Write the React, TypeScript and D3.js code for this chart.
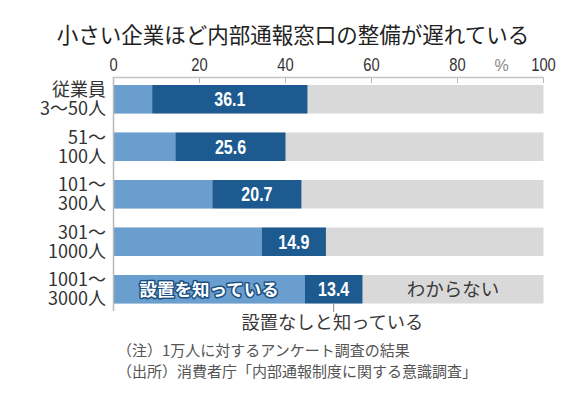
import React from "react";
import * as d3 from "d3";

const categories = ["3-50", "51-100", "101-300", "301-1000", "1001-3000"];
const labelLines = [
  ["従業員", "3～50人"],
  ["51～", "100人"],
  ["101～", "300人"],
  ["301～", "1000人"],
  ["1001～", "3000人"],
];
const knowSet = [9.0, 14.4, 23.0, 34.5, 44.5];
const knowNone = [36.1, 25.6, 20.7, 14.9, 13.4];
const tickValues = [0, 20, 40, 60, 80, 100];
const title = "小さい企業ほど内部通報窓口の整備が遅れている";
const notes = ["（注）1万人に対するアンケート調査の結果", "（出所）消費者庁「内部通報制度に関する意識調査」"];

const C_LIGHT = "#6a9ecf";
const C_DARK = "#1c5a8f";
const C_GRAY = "#d9d9d9";
const JP = "'Noto Sans CJK JP', 'Noto Sans', sans-serif";
const NARROW = "'Liberation Sans Narrow', 'Liberation Sans', Arial, sans-serif";

export default function App() {
  const x = d3.scaleLinear().domain([0, 100]).range([113.5, 543.5]);
  const y = d3.scaleBand<string>().domain(categories).range([85, 303.5]).paddingInner(0.4).paddingOuter(0);
  const bh = y.bandwidth();
  const last = categories.length - 1;
  const lastY = y(categories[last])!;
  const darkMidLast = x(knowSet[last] + knowNone[last] / 2);

  return (
    <svg width={586} height={395} style={{ position: "absolute", left: 0, top: 0, background: "#fff" }}>
      <text x={293} y={43} textAnchor="middle" fontFamily={JP} fontSize={21.5} fontWeight={400} fill="#222">
        {title}
      </text>
      {tickValues.map((t) => (
        <text key={t} transform={`translate(${x(t)},71) scale(0.82,1)`} textAnchor="middle" fontFamily={NARROW} fontSize={18} fill="#333">
          {t}
        </text>
      ))}
      <text x={501.5} y={70.5} textAnchor="middle" fontFamily={NARROW} fontSize={16} fill="#888">%</text>
      {/* bars */}
      {categories.map((c, i) => {
        const y0 = y(c)!;
        const a = knowSet[i];
        const b = knowNone[i];
        return (
          <g key={c}>
            <rect x={x(0)} y={y0} width={x(100) - x(0)} height={bh} fill={C_GRAY} />
            <rect x={x(0)} y={y0} width={x(a) - x(0)} height={bh} fill={C_LIGHT} />
            <rect x={x(a)} y={y0} width={x(a + b) - x(a)} height={bh} fill={C_DARK} />
            <text transform={`translate(${x(a + b / 2)},${y0 + bh / 2 + 7}) scale(0.8,1)`} textAnchor="middle" fontFamily={NARROW} fontWeight="bold" fontSize={20} fill="#fff">
              {b.toFixed(1)}
            </text>
            <text textAnchor="end" fontFamily={JP} fontSize={18} fill="#333">
              {labelLines[i].map((l, k) => (
                <tspan key={k} x={106} y={y0 + bh / 2 - 3 + k * 19}>
                  {l}
                </tspan>
              ))}
            </text>
          </g>
        );
      })}
      {/* axis */}
      <line x1={x(0)} x2={x(100)} y1={77.5} y2={77.5} stroke="#c4c4c4" strokeWidth={1.5} />
      {tickValues.slice(1).map((t) => (
        <line key={t} x1={x(t)} x2={x(t)} y1={77.5} y2={83} stroke="#b8b8b8" strokeWidth={1} />
      ))}
      <line x1={x(0)} x2={x(0)} y1={77} y2={311} stroke="#b8b8b8" strokeWidth={1.5} />
      {/* segment labels */}
      <text x={x(knowSet[last] / 2)} y={lastY + bh / 2 + 6.5} textAnchor="middle" fontFamily={JP} fontWeight="bold" fontSize={17.5}
        fill="#fff" stroke="#1c4f80" strokeWidth={3} paintOrder="stroke" strokeLinejoin="round">
        設置を知っている
      </text>
      <text x={453} y={lastY + bh / 2 + 6.5} textAnchor="middle" fontFamily={JP} fontSize={18.5} fill="#3a3a3a">
        わからない
      </text>
      <line x1={darkMidLast} x2={darkMidLast} y1={lastY + bh} y2={312} stroke="#888" strokeWidth={1} />
      <text x={241.5} y={329} fontFamily={JP} fontSize={18.3} fill="#3a3a3a">
        設置なしと知っている
      </text>
      {notes.map((n, i) => (
        <text key={i} x={117} y={356 + i * 21} fontFamily={JP} fontSize={15} fill="#555">
          {n}
        </text>
      ))}
    </svg>
  );
}
